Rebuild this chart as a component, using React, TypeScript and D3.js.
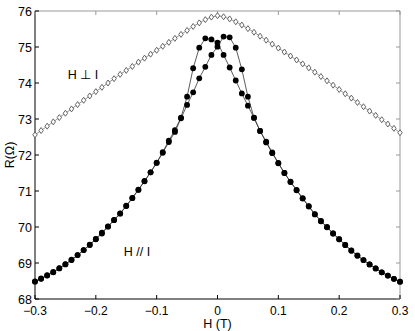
import React from 'react';
import * as d3 from 'd3';

// field values, step 0.01 T from -0.3 to 0.3
const fieldT = d3.range(61).map(i => Math.round((-0.3 + i * 0.01) * 100) / 100);

// H perpendicular to I (open diamonds)
const perpR = [
  72.56, 72.68, 72.8, 72.92, 73.04, 73.16, 73.28, 73.4, 73.52, 73.64,
  73.76, 73.88, 74.0, 74.12, 74.24, 74.35, 74.46, 74.58, 74.69, 74.8,
  74.91, 75.02, 75.13, 75.24, 75.35, 75.46, 75.57, 75.67, 75.76, 75.83,
  75.87,
  75.84, 75.78, 75.7, 75.61, 75.51, 75.41, 75.3, 75.19, 75.08, 74.97,
  74.86, 74.75, 74.64, 74.53, 74.42, 74.3, 74.18, 74.06, 73.94, 73.82,
  73.7, 73.58, 73.46, 73.34, 73.22, 73.1, 72.98, 72.86, 72.74, 72.62,
];

// H parallel to I, sweep with peak on the negative side
const paraUpR = [
  68.48, 68.56, 68.65, 68.74, 68.85, 68.96, 69.08, 69.22, 69.36, 69.5,
  69.66, 69.82, 70.01, 70.19, 70.37, 70.58, 70.8, 71.03, 71.27, 71.52,
  71.79, 72.08, 72.4, 72.69, 73.04, 73.62, 74.41, 74.98, 75.24, 75.21,
  75.12,
  74.78, 74.43, 74.07, 73.71, 73.37, 73.03, 72.67, 72.35, 72.05, 71.77,
  71.5, 71.26, 71.03, 70.8, 70.58, 70.36, 70.17, 70.0, 69.82, 69.66,
  69.5, 69.34, 69.2, 69.08, 68.96, 68.85, 68.74, 68.65, 68.56, 68.48,
];

// H parallel to I, sweep with peak on the positive side
const paraDownR = [
  68.49, 68.57, 68.66, 68.75, 68.86, 68.97, 69.09, 69.22, 69.36, 69.51,
  69.67, 69.84, 70.02, 70.2, 70.38, 70.59, 70.81, 71.04, 71.28, 71.52,
  71.78, 72.06, 72.36, 72.64, 73.02, 73.39, 73.74, 74.13, 74.45, 74.78,
  75.01,
  75.29, 75.27, 74.98, 74.38, 73.62, 73.04, 72.67, 72.37, 72.07, 71.78,
  71.5, 71.25, 71.02, 70.79, 70.57, 70.35, 70.16, 69.99, 69.82, 69.66,
  69.5, 69.35, 69.21, 69.08, 68.96, 68.85, 68.74, 68.65, 68.56, 68.48,
];

const xTicks = [-0.3, -0.2, -0.1, 0, 0.1, 0.2, 0.3];
const yTicks = [68, 69, 70, 71, 72, 73, 74, 75, 76];

const margin = { top: 11, right: 15, bottom: 32, left: 35 };
const W = 415;
const H = 331;

const App = () => {
  const x = d3.scaleLinear().domain([-0.3, 0.3]).range([margin.left, W - margin.right]);
  const y = d3.scaleLinear().domain([68, 76]).range([H - margin.bottom, margin.top]);
  const [x0, x1] = x.range();
  const [y0, y1] = y.range();

  const line = d3
    .line<number>()
    .x((_, i) => x(fieldT[i]))
    .y(d => y(d));

  const font = 'Liberation Sans, Arial, Helvetica, sans-serif';
  const fmt = (v: number) => (v === 0 ? '0' : (v < 0 ? '\u2212' : '') + String(Math.abs(v)));
  const tick = 4;

  return (
    <svg width={W} height={H} style={{ position: 'absolute', left: 0, top: 0, background: '#fff' }}>
      {/* frame */}
      <line x1={x0} x2={x1} y1={y1} y2={y1} stroke="#999" strokeWidth={1} />
      <line x1={x1} x2={x1} y1={y1} y2={y0} stroke="#999" strokeWidth={1} />
      <line x1={x0} x2={x0} y1={y1} y2={y0} stroke="#000" strokeWidth={1} />
      <line x1={x0} x2={x1} y1={y0} y2={y0} stroke="#000" strokeWidth={1} />

      {xTicks.map(t => (
        <g key={'x' + t}>
          <line x1={x(t)} x2={x(t)} y1={y0} y2={y0 - tick} stroke="#000" />
          <line x1={x(t)} x2={x(t)} y1={y1} y2={y1 + tick} stroke="#999" />
          <text x={x(t)} y={y0 + 16} textAnchor="middle" fontSize={12} fontFamily={font}>
            {fmt(t)}
          </text>
        </g>
      ))}
      {yTicks.map(t => (
        <g key={'y' + t}>
          <line x1={x0} x2={x0 + tick} y1={y(t)} y2={y(t)} stroke="#000" />
          <line x1={x1} x2={x1 - tick} y1={y(t)} y2={y(t)} stroke="#999" />
          <text x={x0 - 3} y={y(t) + 4.5} textAnchor="end" fontSize={12.5} fontFamily={font}>
            {t}
          </text>
        </g>
      ))}

      {/* H perp I */}
      <path d={line(perpR) || ''} fill="none" stroke="#777" strokeWidth={0.8} />
      {perpR.map((v, i) => {
        const cx = x(fieldT[i]);
        const cy = y(v);
        return (
          <path
            key={'p' + i}
            d={`M${cx},${cy - 3}L${cx + 2.2},${cy}L${cx},${cy + 3}L${cx - 2.2},${cy}Z`}
            fill="#fff"
            stroke="#555"
            strokeWidth={0.9}
          />
        );
      })}

      {/* H // I */}
      {[paraUpR, paraDownR].map((s, k) => (
        <g key={'s' + k}>
          <path d={line(s) || ''} fill="none" stroke="#333" strokeWidth={0.8} />
          {s.map((v, i) => (
            <circle key={i} cx={x(fieldT[i])} cy={y(v)} r={2.9} fill="#000" />
          ))}
        </g>
      ))}

      <text x={83} y={79} textAnchor="middle" fontSize={12.5} fontFamily={font}>
        H ⊥ I
      </text>
      <text x={137} y={256} textAnchor="middle" fontSize={12.5} fontFamily={font}>
        H // I
      </text>

      <text x={(x0 + x1) / 2} y={328} textAnchor="middle" fontSize={12.5} fontFamily={font}>
        H (T)
      </text>
      <text
        transform={`translate(14,${(y0 + y1) / 2}) rotate(-90)`}
        textAnchor="middle"
        fontSize={12.5}
        fontFamily={font}
      >
        R(Ω)
      </text>
    </svg>
  );
};

export default App;
